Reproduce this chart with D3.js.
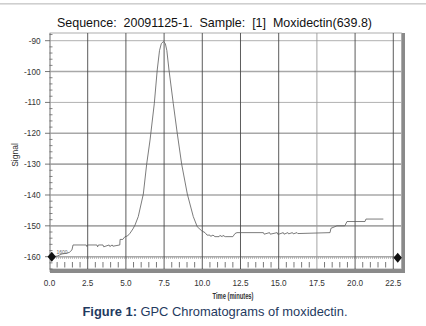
<!DOCTYPE html>
<html><head><meta charset="utf-8">
<script src="https://cdn.jsdelivr.net/npm/d3@7"></script>
<style>body{margin:0;background:#fff}svg{display:block}text{font-family:"Liberation Sans",Arial,sans-serif}</style>
</head><body>
<script>
// ---- data ----
const timeMin = [0.15,0.5,0.82,1.1,1.3,1.47,1.54,2.2,2.4,2.45,2.5,3.1,3.15,3.2,3.5,3.55,3.9,3.95,4.1,4.15,4.6,4.62,4.8,4.94,5.1,5.27,5.46,5.6,5.81,6.14,6.36,6.58,6.86,7.05,7.2,7.32,7.45,7.58,7.68,7.82,8.10,8.36,8.65,9.02,9.41,9.67,9.96,10.18,10.31,10.5,10.55,10.7,10.83,11.1,11.15,11.3,11.35,11.5,12.0,12.14,12.27,14.0,14.05,14.4,14.45,14.9,14.95,15.3,15.35,15.6,15.65,15.9,15.95,16.2,16.25,18.36,18.42,18.81,19.33,19.47,20.65,20.71,21.85];
const signal  = [-160.0,-159.8,-159.1,-158.9,-158.6,-157.8,-156.2,-156.2,-156.2,-156.7,-156.2,-156.2,-156.8,-156.2,-156.2,-156.8,-156.2,-156.7,-156.2,-156.6,-156.2,-154.4,-154.4,-153.5,-153.3,-152.4,-151.0,-149.7,-147.0,-139.7,-130.0,-122.2,-110.3,-99.5,-93.2,-90.9,-90.3,-90.9,-93.2,-99.5,-110.3,-120.0,-130.0,-139.7,-147.0,-150.3,-151.6,-152.2,-153.0,-153.0,-153.4,-153.0,-153.5,-153.5,-153.1,-153.5,-153.1,-153.5,-153.5,-152.5,-152.2,-152.2,-152.7,-152.2,-152.7,-152.2,-152.8,-152.2,-152.7,-152.2,-152.6,-152.2,-152.6,-152.2,-152.5,-152.2,-150.8,-150.0,-150.0,-148.6,-148.6,-147.8,-147.8];
const xTicks = [0,2.5,5,7.5,10,12.5,15,17.5,20,22.5];
const yTicks = [-90,-100,-110,-120,-130,-140,-150,-160];
const markers = [{t:0.15,v:-160.0},{t:22.79,v:-160.3}];
const titleText = "Sequence:  20091125-1.  Sample:  [1]  Moxidectin(639.8)";

const W=426,H=326;
const svg=d3.select("body").append("svg").attr("width",W).attr("height",H);
const x=d3.scaleLinear().domain([0,23.07]).range([49.5,402]);
const y=d3.scaleLinear().domain([-90,-160]).range([40.7,256.7]);
const pTop=33, pBottom=269, pLeft=50, pRight=401.5;

// top separator
svg.append("rect").attr("x",0).attr("y",3).attr("width",W).attr("height",1.6).attr("fill","#cfcfcf");

// title
svg.append("text").attr("x",214.5).attr("y",26.5).attr("text-anchor","middle")
  .attr("font-size",13).attr("fill","#111").style("white-space","pre")
  .attr("textLength",315).attr("lengthAdjust","spacingAndGlyphs").text(titleText);

// plot frame background
svg.append("rect").attr("x",pLeft).attr("y",pTop).attr("width",pRight-pLeft).attr("height",pBottom-pTop).attr("fill","#fff")
  .attr("stroke","#9a9a9a").attr("stroke-width",0.8);

// horizontal gridlines
svg.append("g").selectAll("line").data(yTicks).join("line")
  .attr("x1",pLeft).attr("x2",pRight).attr("y1",d=>y(d)).attr("y2",d=>y(d))
  .attr("stroke","#a8a8a8").attr("stroke-width",d=>d===-90||d===-110?0.9:1.6);

// dotted baseline
svg.append("line").attr("x1",pLeft).attr("x2",pRight).attr("y1",y(-160.3)).attr("y2",y(-160.3))
  .attr("stroke","#b0b0b0").attr("stroke-width",2).attr("stroke-dasharray","1,1");

// vertical gridlines
svg.append("g").selectAll("line").data(xTicks.filter(d=>d>0)).join("line")
  .attr("x1",d=>x(d)).attr("x2",d=>x(d)).attr("y1",pTop).attr("y2",pBottom+4)
  .attr("stroke",d=>d===17.5?"#9a9a9a":"#4a4a4a").attr("stroke-width",0.9);

// x minor ticks
svg.append("g").selectAll("line").data(d3.range(0.5,23,0.5).filter(d=>Math.abs(d/2.5-Math.round(d/2.5))>1e-6)).join("line")
  .attr("x1",d=>x(d)).attr("x2",d=>x(d)).attr("y1",262).attr("y2",267.5)
  .attr("stroke","#555").attr("stroke-width",0.8);

// bottom band & right shadow
svg.append("rect").attr("x",pLeft).attr("y",pBottom).attr("width",pRight-pLeft+3.5).attr("height",4).attr("fill","#8a8a8a");
svg.append("rect").attr("x",pRight+0.5).attr("y",pTop).attr("width",3).attr("height",pBottom-pTop+4).attr("fill","#8a8a8a");

// y axis line and ticks
svg.append("line").attr("x1",pLeft).attr("x2",pLeft).attr("y1",pTop).attr("y2",pBottom+3).attr("stroke","#888").attr("stroke-width",0.8);
svg.append("g").selectAll("line").data(yTicks).join("line")
  .attr("x1",pLeft-5).attr("x2",pLeft).attr("y1",d=>y(d)).attr("y2",d=>y(d)).attr("stroke","#555").attr("stroke-width",0.8);
svg.append("g").selectAll("line").data(d3.range(-88,-165,-2).filter(d=>d%10!==0)).join("line")
  .attr("x1",pLeft-0.5).attr("x2",pLeft+2.5).attr("y1",d=>y(d)).attr("y2",d=>y(d)).attr("stroke","#666").attr("stroke-width",0.8);
svg.append("g").selectAll("text").data(yTicks).join("text")
  .attr("x",40.5).attr("y",d=>y(d)+3).attr("text-anchor","end").attr("font-size",8.2).attr("fill","#333").text(d=>d);

// x tick labels
svg.append("g").selectAll("text").data(xTicks).join("text")
  .attr("x",d=>x(d)).attr("y",286).attr("text-anchor","middle").attr("font-size",8.2).attr("fill","#333").text(d=>d.toFixed(1));

// axis titles
svg.append("text").attr("x",233).attr("y",298.5).attr("text-anchor","middle").attr("font-size",9).attr("font-weight","bold")
  .attr("fill","#333").attr("textLength",41).attr("lengthAdjust","spacingAndGlyphs").text("Time (minutes)");
svg.append("text").attr("transform","translate(18,155) rotate(-90)").attr("text-anchor","middle").attr("font-size",8.5)
  .attr("fill","#333").text("Signal");

// trace
const data=timeMin.map((t,i)=>({t,v:signal[i]}));
svg.append("path").datum(data).attr("fill","none").attr("stroke","#5a5a5a").attr("stroke-width",0.8)
  .attr("d",d3.line().x(d=>x(d.t)).y(d=>y(d.v)));

// small label near start
svg.append("text").attr("x",x(0.45)).attr("y",y(-159.0)).attr("font-size",5).attr("fill","#666").text("1600");

// diamond markers
svg.append("g").selectAll("path").data(markers).join("path")
  .attr("transform",d=>`translate(${x(d.t)},${y(d.v)})`)
  .attr("d","M0,-5L4.2,0L0,5L-4.2,0Z").attr("fill","#111");

// caption
const cap=svg.append("text").attr("x",215).attr("y",315.5).attr("text-anchor","middle").attr("font-size",12.6).attr("fill","#1f3a60")
  .attr("textLength",265).attr("lengthAdjust","spacingAndGlyphs");
cap.append("tspan").attr("font-weight","bold").text("Figure 1:");
cap.append("tspan").text(" GPC Chromatograms of moxidectin.");
</script>
</body></html>
